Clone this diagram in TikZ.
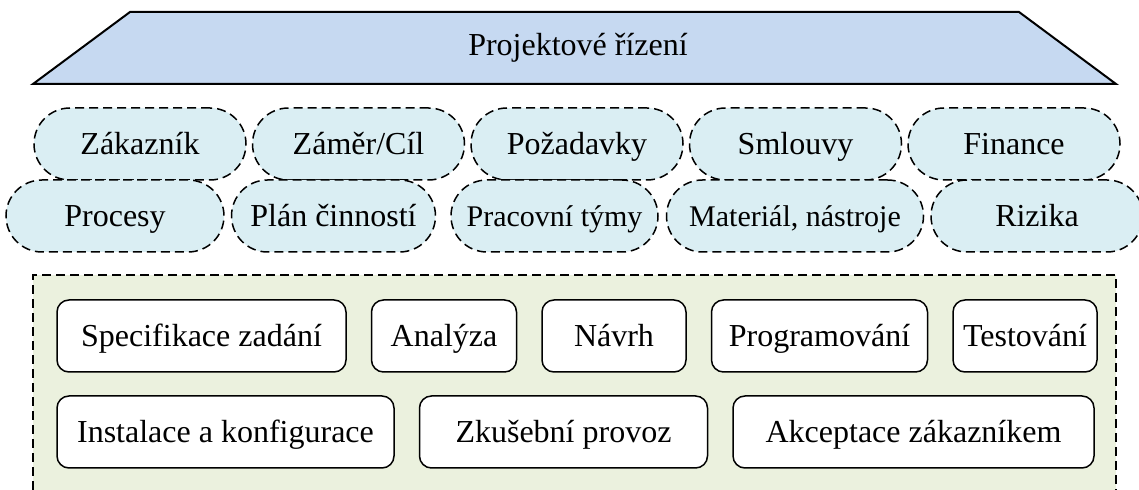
\documentclass[tikz,border=0pt]{standalone}
\usepackage{fontspec}
\setmainfont{Liberation Serif}
\usepackage{tikz}
\usetikzlibrary{positioning}

\definecolor{roofblue}{HTML}{C6D9F1}
\definecolor{pillblue}{HTML}{DAEEF3}
\definecolor{phasegreen}{HTML}{EBF1DE}

\begin{document}
\begin{tikzpicture}[x=0.5pt,y=-0.5pt,font=\fontsize{16}{18}\selectfont,
  dashline/.style={line width=0.75pt,dash pattern=on 4.5pt off 2.5pt},
  pill/.style={draw,dashline,fill=pillblue,rounded corners=18pt,minimum height=36pt,inner sep=0pt,text height=12.3pt,text depth=1.5pt},
  phase/.style={draw,line width=0.75pt,fill=white,rounded corners=6pt,minimum height=36pt,inner sep=0pt,text height=12.3pt,text depth=1.5pt},
  small/.style={font=\fontsize{15}{16}\selectfont}]
  \useasboundingbox (0,0) rectangle (1139,490);

  \draw [line width=1pt,fill=roofblue] (33,84) -- (130,12) -- (1019,12) -- (1116,84) -- cycle;
  \node [text height=11pt,text depth=3pt] (roof) at (578,48) {Projektové řízení};

  \node [pill,minimum width=106pt] (zak) at (140,144) {Zákazník};
  \node [pill,minimum width=106pt,right=2.5pt of zak] (cil) {Záměr/Cíl};
  \node [pill,minimum width=106pt,right=2.5pt of cil] (poz) {Požadavky};
  \node [pill,minimum width=106pt,right=2.5pt of poz] (sml) {Smlouvy};
  \node [pill,minimum width=106pt,right=2.5pt of sml] (fin) {Finance};

  \node [pill,minimum width=109pt] (pro) at (115,216) {Procesy};
  \node [pill,minimum width=102pt,right=3pt of pro] (plan) {Plán činností};
  \node [pill,small,minimum width=103.5pt,right=7pt of plan] (tym) {Pracovní týmy};
  \node [pill,small,minimum width=128.5pt,right=3.5pt of tym] (mat) {Materiál, nástroje};
  \node [pill,minimum width=106pt,right=3pt of mat] (riz) {Rizika};

  \fill [phasegreen] (33,275) rectangle (1116,490);
  \draw [dashline] (33,490) -- (33,275) -- (1116,275) -- (1116,490);

  \node [phase,minimum width=144.5pt] (spec) at (201.5,336) {Specifikace zadání};
  \node [phase,minimum width=72.5pt,right=12pt of spec] (ana) {Analýza};
  \node [phase,minimum width=72pt,right=12pt of ana] (nav) {Návrh};
  \node [phase,minimum width=108pt,right=12pt of nav] (prog) {Programování};
  \node [phase,minimum width=72pt,right=12pt of prog] (test) {Testování};

  \node [phase,minimum width=168.5pt] (inst) at (225.5,432) {Instalace a konfigurace};
  \node [phase,minimum width=144pt,right=12pt of inst] (zk) {Zkušební provoz};
  \node [phase,minimum width=180.5pt,right=12pt of zk] (akc) {Akceptace zákazníkem};
\end{tikzpicture}
\end{document}
